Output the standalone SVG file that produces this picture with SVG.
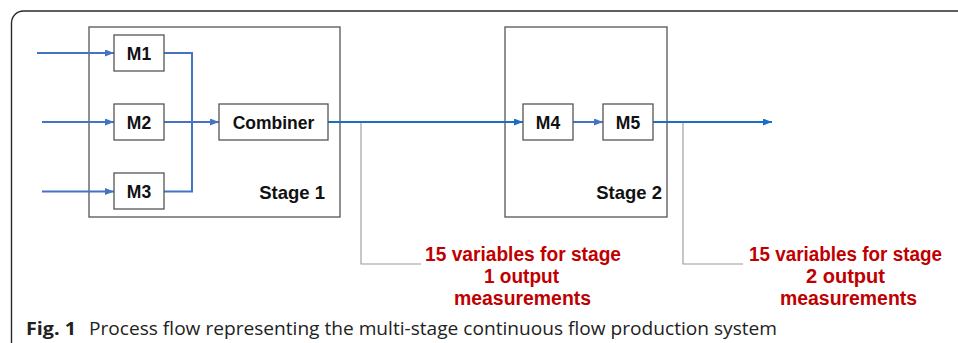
<svg xmlns="http://www.w3.org/2000/svg" width="958" height="343" viewBox="0 0 958 343">
  <style>
    .frame { fill: none; stroke: #2a2a2a; stroke-width: 1.4; }
    .stage { fill: #fff; stroke: #555; stroke-width: 1.3; }
    .box { fill: #fff; stroke: #555; stroke-width: 1.3; }
    .lbl { font-family: "Liberation Sans", Arial, sans-serif; font-weight: bold; font-size: 17.5px; fill: #111; text-anchor: middle; }
    .stg { font-family: "Liberation Sans", Arial, sans-serif; font-weight: bold; font-size: 18.5px; fill: #111; text-anchor: end; }
    .red { font-family: "Liberation Sans", Arial, sans-serif; font-weight: bold; font-size: 20px; fill: #C00000; text-anchor: middle; }
    .cap { font-family: "Open Sans", "Noto Sans", sans-serif; font-size: 18px; fill: #222; }
    .in { fill: none; stroke: #4472C4; stroke-width: 2; }
    .main { fill: none; stroke: #1A6FC4; stroke-width: 2; }
    .tap { fill: none; stroke: #999; stroke-width: 1.1; }
  </style>
  <defs>
    <marker id="ah-in" markerUnits="userSpaceOnUse" markerWidth="10" markerHeight="8" refX="9" refY="3.5" orient="auto">
      <path d="M0,0 L9,3.5 L0,7 z" fill="#4472C4"/>
    </marker>
    <marker id="ah-main" markerUnits="userSpaceOnUse" markerWidth="10" markerHeight="8" refX="9" refY="3.5" orient="auto">
      <path d="M0,0 L9,3.5 L0,7 z" fill="#1A6FC4"/>
    </marker>
  </defs>

  <path class="frame" d="M11.5,343 V23 A12,12 0 0 1 23.5,11 H958"/>

  <g id="stage1">
    <rect class="stage" x="89" y="27" width="251" height="190"/>
    <text class="stg" x="325" y="199">Stage 1</text>
  </g>
  <g id="stage2">
    <rect class="stage" x="505" y="27" width="162" height="190"/>
    <text class="stg" x="662" y="199">Stage 2</text>
  </g>

  <g id="connectors">
    <line class="in" x1="37" y1="53" x2="114" y2="53" marker-end="url(#ah-in)"/>
    <line class="in" x1="42" y1="122" x2="114" y2="122" marker-end="url(#ah-in)"/>
    <line class="in" x1="42" y1="191.5" x2="114" y2="191.5" marker-end="url(#ah-in)"/>
    <polyline class="in" points="164,53 192,53 192,191.5 164,191.5"/>
    <line class="in" x1="164" y1="122" x2="219" y2="122" marker-end="url(#ah-in)"/>
    <line class="main" x1="328" y1="122" x2="523" y2="122" marker-end="url(#ah-main)"/>
    <line class="in" x1="573" y1="122" x2="603" y2="122" marker-end="url(#ah-in)"/>
    <line class="main" x1="653" y1="122" x2="772" y2="122" marker-end="url(#ah-main)"/>
    <polyline class="tap" points="361,123 361,264 421,264"/>
    <polyline class="tap" points="683,123 683,264 743,264"/>
  </g>

  <g id="m1">
    <rect class="box" x="114" y="35" width="50" height="36"/>
    <text class="lbl" x="139" y="59.5">M1</text>
  </g>
  <g id="m2">
    <rect class="box" x="114" y="104" width="50" height="36"/>
    <text class="lbl" x="139" y="128.5">M2</text>
  </g>
  <g id="m3">
    <rect class="box" x="114" y="173" width="50" height="36"/>
    <text class="lbl" x="139" y="197.5">M3</text>
  </g>
  <g id="combiner">
    <rect class="box" x="219" y="104" width="109" height="36"/>
    <text class="lbl" x="273.5" y="128.5">Combiner</text>
  </g>
  <g id="m4">
    <rect class="box" x="523" y="104" width="50" height="36"/>
    <text class="lbl" x="548" y="128.5">M4</text>
  </g>
  <g id="m5">
    <rect class="box" x="603" y="104" width="50" height="36"/>
    <text class="lbl" x="628" y="128.5">M5</text>
  </g>

  <g id="note1">
    <text class="red" x="523" y="261" textLength="196" lengthAdjust="spacingAndGlyphs">15 variables for stage</text>
    <text class="red" x="521.5" y="283" textLength="75" lengthAdjust="spacingAndGlyphs">1 output</text>
    <text class="red" x="522.5" y="305" textLength="137" lengthAdjust="spacingAndGlyphs">measurements</text>
  </g>
  <g id="note2">
    <text class="red" x="845.5" y="261" textLength="193" lengthAdjust="spacingAndGlyphs">15 variables for stage</text>
    <text class="red" x="845.5" y="283" textLength="79" lengthAdjust="spacingAndGlyphs">2 output</text>
    <text class="red" x="848.5" y="305" textLength="137" lengthAdjust="spacingAndGlyphs">measurements</text>
  </g>

  <g id="caption">
    <text class="cap" x="26" y="335" font-weight="bold" textLength="50" lengthAdjust="spacingAndGlyphs">Fig. 1</text>
    <text class="cap" x="89" y="335" textLength="688" lengthAdjust="spacingAndGlyphs">Process flow representing the multi-stage continuous flow production system</text>
  </g>
</svg>
